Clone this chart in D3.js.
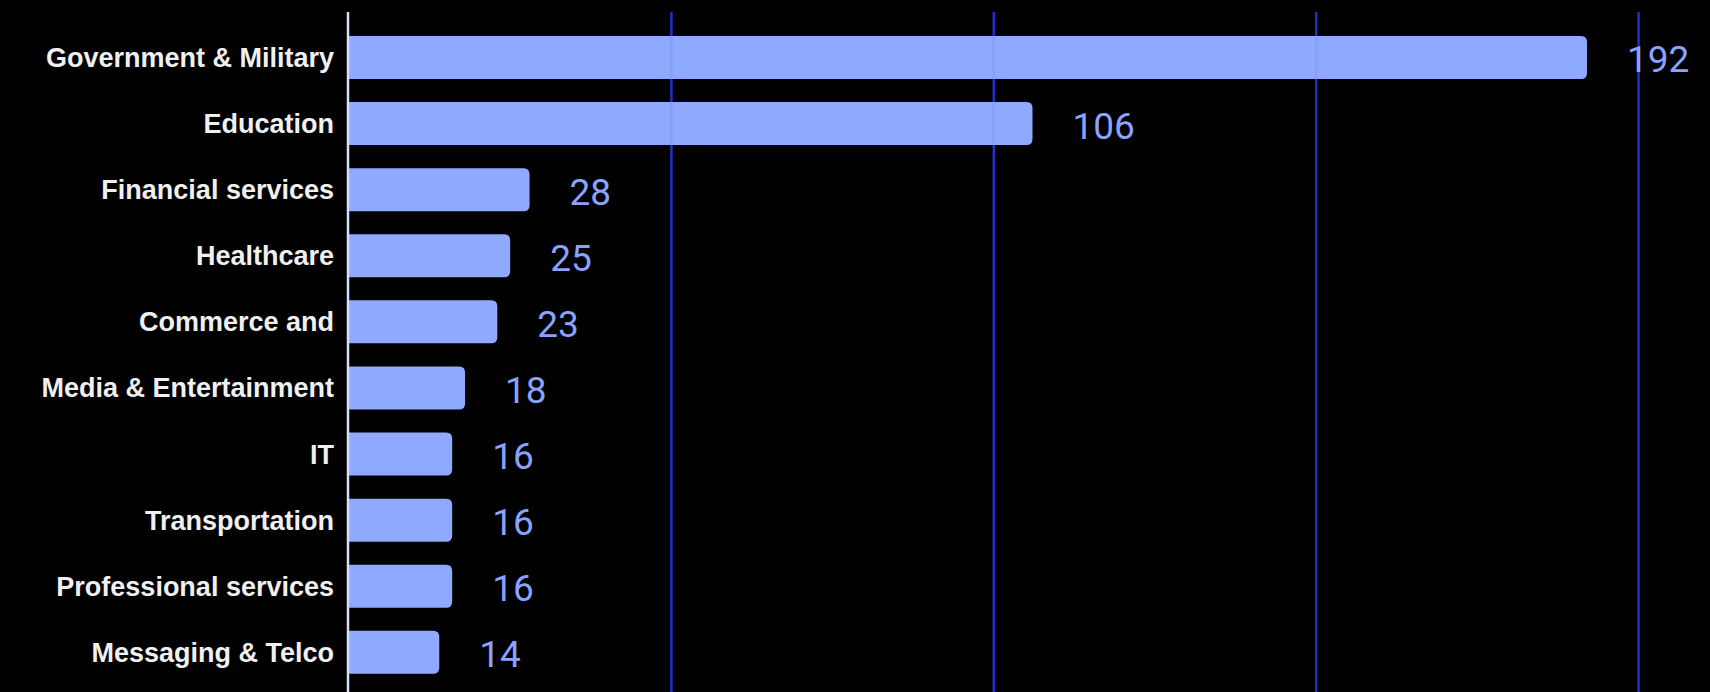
<!DOCTYPE html>
<html>
<head>
<meta charset="utf-8">
<script src="https://cdn.jsdelivr.net/npm/d3@7"></script>
<style>
  html, body { margin: 0; padding: 0; background: #000; }
  svg { display: block; }
</style>
</head>
<body>
<svg id="chart" width="1710" height="692"></svg>
<script>
const categories = ["Government & Military", "Education", "Financial services", "Healthcare", "Commerce and", "Media & Entertainment", "IT", "Transportation", "Professional services", "Messaging & Telco"];
const values = [192, 106, 28, 25, 23, 18, 16, 16, 16, 14];
const gridTicks = [50, 100, 150, 200];

const W = 1710, H = 692;
const svg = d3.select("#chart");
svg.append("rect").attr("width", W).attr("height", H).attr("fill", "#000");

const x = d3.scaleLinear().domain([0, 200]).range([349, 1638.6]);
const y = d3.scaleBand().domain(categories).range([24.4, 685.4]).paddingInner(0.35).paddingOuter(0.175);

// grid lines
svg.append("g").selectAll("line").data(gridTicks).join("line")
  .attr("x1", d => x(d)).attr("x2", d => x(d))
  .attr("y1", 12).attr("y2", H)
  .attr("stroke", "#2230c8").attr("stroke-width", 2.5);

// bars: flat left, rounded right
const r = 6;
svg.append("g").selectAll("path").data(values).join("path")
  .attr("d", (d, i) => {
    const x0 = x(0), x1 = x(d), y0 = y(categories[i]), h = y.bandwidth();
    return `M${x0},${y0} H${x1 - r} Q${x1},${y0} ${x1},${y0 + r} V${y0 + h - r} Q${x1},${y0 + h} ${x1 - r},${y0 + h} H${x0} Z`;
  })
  .attr("fill", "#8fa9ff");

// faint gridline show-through on bars
svg.append("g").selectAll("line").data(gridTicks).join("line")
  .attr("x1", d => x(d)).attr("x2", d => x(d))
  .attr("y1", 12).attr("y2", H)
  .attr("stroke", "#2230c8").attr("stroke-width", 2.5).attr("stroke-opacity", 0.07);

// axis line
svg.append("line").attr("x1", x(0) - 1).attr("x2", x(0) - 1).attr("y1", 12).attr("y2", H)
  .attr("stroke", "#d8defa").attr("stroke-width", 2.5);

// category labels via d3 axis
const yAxis = d3.axisLeft(y).tickSize(0).tickPadding(0);
const gA = svg.append("g").attr("transform", `translate(${x(0) - 15},0)`).call(yAxis);
gA.select(".domain").remove();
gA.selectAll("text")
  .attr("fill", "#f0f0f0")
  .style("font-family", "'Liberation Sans', Arial, sans-serif")
  .style("font-weight", "bold")
  .style("font-size", "27px")
  .attr("dy", "0.35em");

// value labels
svg.append("g").selectAll("text").data(values).join("text")
  .attr("x", d => x(d) + 40)
  .attr("y", (d, i) => y(categories[i]) + y.bandwidth() / 2 + 2)
  .attr("dy", "0.35em")
  .attr("fill", "#8aa3ff")
  .style("font-family", "Roboto, 'Open Sans', sans-serif")
  .style("font-size", "37px")
  .text(d => d);
</script>
</body>
</html>
